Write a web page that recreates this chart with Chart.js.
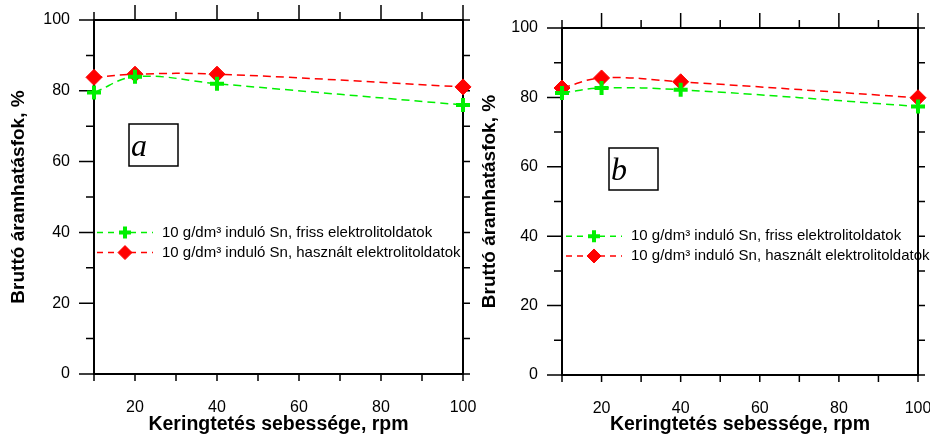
<!DOCTYPE html>
<html>
<head>
<meta charset="utf-8">
<script src="https://cdn.jsdelivr.net/npm/chart.js@4.4.0/dist/chart.umd.min.js"></script>
<style>
  body { margin: 0; background: #fff; width: 930px; height: 434px; overflow: hidden; position: relative; }
  canvas { position: absolute; top: 0; }
  #chart-a { left: 0; }
  #chart-b { left: 480px; }
</style>
</head>
<body>
<canvas id="chart-a" width="480" height="434"></canvas>
<canvas id="chart-b" width="450" height="434"></canvas>
<script>
// data
const rpm = [10, 20, 40, 100]
const frissA = [79.5, 84, 82, 76]
const hasznaltA = [83.8, 84.7, 84.7, 81.1]
const frissB = [81.3, 82.7, 82.2, 77.4]
const hasznaltB = [82.7, 85.6, 84.5, 79.9]

const xTicks = [20, 40, 60, 80, 100]
const xMinorTicks = [10, 30, 50, 70, 90]
const yTicks = [0, 20, 40, 60, 80, 100]
const yMinorTicks = [10, 30, 50, 70, 90]
const seriesNames = ['10 g/dm³ induló Sn, friss elektrolitoldatok', '10 g/dm³ induló Sn, használt elektrolitoldatok']
const legendRows = [40, 34.3]
const xTitle = 'Keringtetés sebessége, rpm'
const yTitle = 'Bruttó áramhatásfok, %'

const GREEN = '#00f000'
const RED = '#ff0000'
const FONT = '"Liberation Sans", Arial, sans-serif'

// box + ticks on all four sides, plus the letter box
const framePlugin = {
  id: 'frame',
  beforeDatasetsDraw(chart, args, opts) {
    const { ctx, chartArea: a, scales: { x, y } } = chart
    ctx.save()
    ctx.strokeStyle = '#000'
    ctx.lineWidth = 2
    ctx.strokeRect(a.left, a.top, a.right - a.left, a.bottom - a.top)

    ctx.lineWidth = 1.5
    ctx.beginPath()
    const tick = (x1, y1, x2, y2) => { ctx.moveTo(x1, y1); ctx.lineTo(x2, y2) }
    xTicks.concat(xMinorTicks).forEach(v => {
      const px = x.getPixelForValue(v)
      const major = xTicks.includes(v)
      tick(px, a.top, px, a.top - (major ? 15 : 8))
      tick(px, a.bottom, px, a.bottom + 7)
    })
    yTicks.concat(yMinorTicks).forEach(v => {
      const py = y.getPixelForValue(v)
      const major = yTicks.includes(v)
      tick(a.left, py, a.left - (major ? 15 : 8), py)
      tick(a.right, py, a.right + 7, py)
    })
    ctx.stroke()

    // panel letter
    const bx = a.left + opts.boxLeft
    const by = a.top + opts.boxTop
    ctx.lineWidth = 1.5
    ctx.strokeRect(bx, by, 49, 42)
    ctx.fillStyle = '#000'
    ctx.font = 'italic 32px "Liberation Serif", "Times New Roman", serif'
    ctx.textBaseline = 'alphabetic'
    ctx.fillText(opts.letter, bx + 2, by + 32)
    ctx.restore()
  }
}

// legend drawn inside the plot area
const inLegendPlugin = {
  id: 'inLegend',
  afterDraw(chart, args, opts) {
    const { ctx, chartArea: a, scales: { y } } = chart
    chart.data.datasets.forEach((ds, i) => {
      const py = y.getPixelForValue(legendRows[i])
      const x0 = a.left + opts.left
      ctx.save()
      ctx.strokeStyle = ds.borderColor
      ctx.fillStyle = ds.pointBackgroundColor
      ctx.lineWidth = ds.borderWidth
      ctx.setLineDash([6, 5])
      ctx.beginPath()
      ctx.moveTo(x0, py)
      ctx.lineTo(x0 + 56, py)
      ctx.stroke()
      ctx.setLineDash([])
      ctx.lineWidth = ds.pointBorderWidth
      Chart.helpers.drawPoint(ctx, {
        pointStyle: ds.pointStyle,
        radius: ds.pointRadius - 1,
        borderWidth: ds.pointBorderWidth,
        rotation: 0
      }, x0 + 28, py)
      ctx.fillStyle = '#000'
      ctx.font = '15px ' + FONT
      ctx.textBaseline = 'middle'
      ctx.fillText(ds.label, x0 + 65, py)
      ctx.restore()
    })
  }
}

function makeDatasets(friss, hasznalt) {
  return [
    {
      label: seriesNames[0],
      data: rpm.map((r, i) => ({ x: r, y: friss[i] })),
      borderColor: GREEN,
      borderWidth: 1.5,
      borderDash: [8, 5],
      tension: 0.4,
      pointStyle: 'cross',
      pointRadius: 7,
      pointBorderWidth: 4,
      pointBorderColor: GREEN,
      pointBackgroundColor: GREEN,
      clip: false
    },
    {
      label: seriesNames[1],
      data: rpm.map((r, i) => ({ x: r, y: hasznalt[i] })),
      borderColor: RED,
      borderWidth: 1.5,
      borderDash: [8, 5],
      tension: 0.4,
      pointStyle: 'rectRot',
      pointRadius: 8,
      pointBorderWidth: 1,
      pointBorderColor: RED,
      pointBackgroundColor: RED,
      clip: false
    }
  ]
}

function makeChart(canvasId, friss, hasznalt, p) {
  new Chart(document.getElementById(canvasId), {
    type: 'line',
    data: { datasets: makeDatasets(friss, hasznalt) },
    plugins: [framePlugin, inLegendPlugin],
    options: {
      responsive: false,
      animation: false,
      layout: { padding: { left: 0, right: p.right, top: p.top, bottom: 0 } },
      plugins: {
        legend: { display: false },
        tooltip: { enabled: false },
        frame: { letter: p.letter, boxLeft: p.boxLeft, boxTop: p.boxTop },
        inLegend: { left: p.legendLeft }
      },
      scales: {
        x: {
          type: 'linear',
          min: 10,
          max: 100,
          afterBuildTicks: s => { s.ticks = xTicks.map(v => ({ value: v })) },
          afterFit: s => { s.height = p.xHeight; s.paddingLeft = 0; s.paddingRight = 0 },
          grid: { drawOnChartArea: false, drawTicks: false },
          border: { display: false },
          ticks: { color: '#000', font: { family: FONT, size: 16 }, padding: 23.5, maxRotation: 0 },
          title: {
            display: true,
            text: xTitle,
            color: '#000',
            font: { family: FONT, size: 19.5, weight: 'bold', lineHeight: 1 },
            padding: { top: 0, bottom: 0 }
          }
        },
        y: {
          min: 0,
          max: 100,
          afterBuildTicks: s => { s.ticks = yTicks.map(v => ({ value: v })) },
          afterFit: s => { s.width = p.yWidth; s.paddingTop = 0; s.paddingBottom = 0 },
          grid: { drawOnChartArea: false, drawTicks: false },
          border: { display: false },
          ticks: { color: '#000', font: { family: FONT, size: 16 }, padding: 24 },
          title: {
            display: true,
            text: yTitle,
            color: '#000',
            font: { family: FONT, size: 19, weight: 'bold', lineHeight: 1 },
            padding: { top: p.yTitlePad, bottom: 0 }
          }
        }
      }
    }
  })
}

makeChart('chart-a', frissA, hasznaltA, {
  letter: 'a', top: 20, right: 17, yWidth: 94, xHeight: 60,
  boxLeft: 35, boxTop: 104, legendLeft: 3, yTitlePad: 9.5
})
makeChart('chart-b', frissB, hasznaltB, {
  letter: 'b', top: 28, right: 12, yWidth: 82, xHeight: 59,
  boxLeft: 47, boxTop: 120, legendLeft: 4, yTitlePad: 0.5
})
</script>
</body>
</html>
